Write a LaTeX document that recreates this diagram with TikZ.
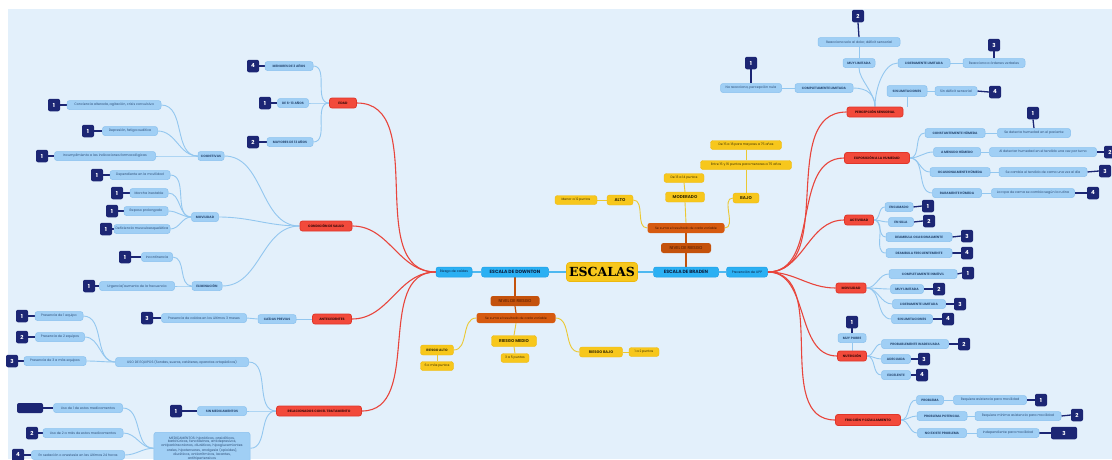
\documentclass[tikz,border=0pt]{standalone}
\usepackage{fontspec}
\setmainfont{Poppins}
\newfontfamily\slab{DejaVu Serif}
\usetikzlibrary{backgrounds}
\definecolor{bgc}{HTML}{E3F0FB}
\definecolor{lbF}{HTML}{A0CFF5}
\definecolor{lbD}{HTML}{8AC1EE}
\definecolor{lbT}{HTML}{2E4F78}
\definecolor{lbL}{HTML}{93C7EF}
\definecolor{rdF}{HTML}{F24A3B}
\definecolor{rdD}{HTML}{E0362A}
\definecolor{rdT}{HTML}{3B0A0A}
\definecolor{rdL}{HTML}{E8453C}
\definecolor{navy}{HTML}{1C2674}
\definecolor{blF}{HTML}{2BB0F3}
\definecolor{blD}{HTML}{1E9FE6}
\definecolor{blT}{HTML}{0B2344}
\definecolor{blL}{HTML}{4DB8F0}
\definecolor{orD}{HTML}{C4520C}
\definecolor{orF}{HTML}{D65A10}
\definecolor{orT}{HTML}{4A1800}
\definecolor{ylF}{HTML}{F7C71C}
\definecolor{ylD}{HTML}{EDB80E}
\definecolor{ylT}{HTML}{3A2E00}
\definecolor{ylL}{HTML}{EBC832}
\tikzset{
 nb/.style={rounded corners=2.5pt, inner sep=0.6pt, align=center, minimum height=9pt},
 mw/.style={minimum width=#1pt},
 lb/.style={nb, fill=lbF, draw=lbD, line width=0.5pt, text=lbT, font=\fontsize{3.3}{3.7}\selectfont},
 lbu/.style={lb, font=\fontsize{3.2}{3.7}\selectfont\bfseries},
 rd/.style={nb, fill=rdF, draw=rdD, line width=0.8pt, text=rdT, minimum height=10pt, font=\fontsize{3.3}{3.8}\selectfont\bfseries},
 bdg/.style={rounded corners=2pt, fill=navy, text=white, inner sep=0pt, minimum width=12pt, minimum height=12.5pt, font=\fontsize{5.5}{6}\selectfont\bfseries},
 bl/.style={nb, fill=blF, draw=blD, line width=0.5pt, text=blT, minimum height=10pt, font=\fontsize{4.6}{5.5}\selectfont\bfseries},
 bls/.style={nb, fill=blF, draw=blD, line width=0.5pt, text=blT, minimum height=10pt, font=\fontsize{3.3}{4}\selectfont},
 orn/.style={nb, fill=orD, text=orT, minimum height=10pt, font=\fontsize{4.2}{5}\selectfont},
 ors/.style={nb, fill=orF, text=orT, minimum height=10pt, font=\fontsize{3.2}{3.7}\selectfont},
 yl/.style={nb, fill=ylF, draw=ylD, line width=0.4pt, text=ylT, font=\fontsize{3.2}{3.7}\selectfont},
 ylb/.style={yl, minimum height=10pt, font=\fontsize{4.2}{5}\selectfont\bfseries},
 esc/.style={rounded corners=3pt, fill=ylF, draw=ylD, line width=0.6pt, minimum width=71pt, minimum height=19pt, inner sep=0pt, font=\slab\fontsize{12.5}{13}\selectfont\bfseries, text=black},
 lbc/.style={draw=lbL, line width=0.9pt},
 rdc/.style={draw=rdL, line width=1.1pt},
 nvc/.style={draw=navy, line width=1.3pt},
 ylc/.style={draw=ylL, line width=0.9pt},
 orc/.style={draw=orD, line width=1.2pt},
 blc/.style={draw=blL, line width=1.2pt},
}
\begin{document}
\begin{tikzpicture}[x=1pt,y=-1pt]
\useasboundingbox (0,0) rectangle (1112,459);
% ---- centre
\node[bls,mw=36] (rc) at (454,272) {Riesgo de caídas};
\node[bl,mw=67] (dw) at (515,272) {ESCALA DE DOWNTON};
\node[esc] (esc) at (602,272) {ESCALAS};
\node[bl,mw=65] (br) at (686,272) {ESCALA DE BRADEN};
\node[bls,mw=41] (up) at (747,272) {Prevención de UPP};
% ---- Downton levels
\node[orn,mw=49] (dn) at (515,301) {NIVEL DE RIESGO};
\node[ors,mw=79] (ds) at (516,318) {Se suma el resultado de cada variable};
\node[ylb,mw=45,minimum height=11pt] (dm) at (514,341) {RIESGO MEDIO};
\node[yl,mw=28] (dmp) at (515,358) {3 a 5 puntos};
\node[ylb,mw=33,font=\fontsize{3.3}{4}\selectfont\bfseries] (da) at (437,350) {RIESGO ALTO};
\node[yl,mw=33] (dap) at (437,366) {6 o más puntos};
\node[ylb,mw=43,font=\fontsize{3.7}{4.4}\selectfont\bfseries] (db) at (601,352) {RIESGO BAJO};
\node[yl,mw=30] (dbp) at (644,352) {1 a 2 puntos};
% ---- Braden levels
\node[orn,mw=50] (bn) at (686,248) {NIVEL DE RIESGO};
\node[ors,mw=77] (bs) at (686,228) {Se suma el resultado de cada variable};
\node[ylb,mw=39] (bm) at (685,197) {MODERADO};
\node[yl,mw=40] (bmp) at (684,178) {De 13 a 14 puntos};
\node[ylb,mw=26] (ba) at (620,200) {ALTO};
\node[yl,mw=42] (bap) at (576,200) {Menor a 12 puntos};
\node[ylb,mw=26] (bb) at (746,198) {BAJO};
\node[yl,mw=91] (bb1) at (746,165) {Entre 15 y 16 puntos para menores a 75 años};
\node[yl,mw=71] (bb2) at (746,145) {De 15 a 18 para mayores a 75 años};
% ---- left red
\node[rd,mw=27] (edad) at (343,103) {EDAD};
\node[rd,mw=52] (cond) at (326,226) {CONDICIÓN DE SALUD};
\node[rd,mw=39] (ante) at (332,319) {ANTECEDENTES};
\node[rd,mw=85] (rel) at (319,411) {RELACIONADOS CON EL TRATAMIENTO};
% edad
\node[lbu,mw=48] (e1) at (289,66) {MENORES DE 3 AÑOS};
\node[bdg] (e1b) at (253,66) {4};
\node[lbu,mw=31] (e2) at (293,103) {DE 6-13 AÑOS};
\node[bdg] (e2b) at (265,103) {1};
\node[lbu,mw=46] (e3) at (290,142) {MAYORES DE 13 AÑOS};
\node[bdg] (e3b) at (253,142) {2};
% condicion
\node[lbu,mw=26] (cog) at (211,156) {COGNITIVAS};
\node[lb,mw=94] (c1) at (114,105) {Conciencia alterada, agitación, crisis convulsiva};
\node[bdg] (c1b) at (54,105) {1};
\node[lb,mw=55] (c2) at (130,131) {Depresión, fatiga auditiva};
\node[bdg] (c2b) at (88,131) {1};
\node[lb,mw=101] (c3) at (105,156) {Incumplimiento a las indicaciones farmacológicas};
\node[bdg] (c3b) at (42,156) {1};
\node[lbu,mw=27] (mov) at (205,217) {MOVILIDAD};
\node[lb,mw=60] (m1) at (140,175) {Dependiente en la movilidad};
\node[bdg] (m1b) at (97,175) {1};
\node[lb,mw=38] (m2) at (149,193) {Marcha inestable};
\node[bdg] (m2b) at (117,193) {1};
\node[lb,mw=44] (m3) at (146,211) {Reposo prolongado};
\node[bdg] (m3b) at (112,211) {1};
\node[lb,mw=56] (m4) at (142,229) {Deficiencia musculoesquelética};
\node[bdg] (m4b) at (106,229) {1};
\node[lbu,mw=30] (eli) at (207,286) {ELIMINACIÓN};
\node[lb,mw=31] (l1) at (157,257) {Incontinencia};
\node[bdg] (l1b) at (125,257) {1};
\node[lb,mw=75] (l2) at (137,286) {Urgencia/aumento de la frecuencia};
\node[bdg] (l2b) at (89,286) {1};
% antecedentes
\node[lbu,mw=38] (cp) at (277,319) {CAÍDAS PREVIAS};
\node[lb,mw=85] (cp1) at (204,318) {Presencia de caídas en los últimos 3 meses};
\node[bdg] (cp1b) at (147,318) {3};
% relacionados
\node[lb,mw=133] (ueq) at (182,362) {USO DE EQUIPOS (Sondas, sueros, catéteres, aparatos ortopédicos)};
\node[lb,mw=48] (q1) at (59,316) {Presencia de 1 equipo};
\node[bdg] (q1b) at (22,316) {1};
\node[lb,mw=49] (q2) at (60,337) {Presencia de 2 equipos};
\node[bdg] (q2b) at (22,337) {2};
\node[lb,mw=62] (q3) at (55,361) {Presencia de 3 a más equipos};
\node[bdg] (q3b) at (12,361) {3};
\node[lbu,mw=49] (smed) at (222,411) {SIN MEDICAMENTOS};
\node[bdg] (smedb) at (176,411) {1};
\node[lb,text width=95pt,anchor=north,minimum height=32pt] (med) at (202,432) {MEDICAMENTOS: hipnóticos, ansiolíticos,\\ barbitúricos, fenotiazinas, antidepresivos,\\ antiparkinsonianos, diuréticos, hipoglucemiantes\\ orales, hipotensores, analgesia (opioides),\\ diuréticos, antiarrítmicos, laxantes,\\ antihipertensivos};
\node[lb,mw=69] (d1) at (88,408) {Uso de 1 de estos medicamentos};
\node[bdg,mw=26,minimum height=10pt] (d1b) at (30,408) {};
\node[lb,mw=80] (d2) at (83,433) {Uso de 2 a más de estos medicamentos};
\node[bdg] (d2b) at (32,433) {2};
\node[lb,mw=93] (d3) at (78,455) {En sedación o anestesia en las últimas 24 horas};
\node[bdg] (d3b) at (18,455) {4};
% ---- right red
\node[rd,mw=56] (per) at (875,112) {PERCEPCIÓN SENSORIAL};
\node[lbu,mw=58] (p1) at (824,88) {COMPLETAMENTE LIMITADA};
\node[lb,mw=61] (p1t) at (751,88) {No reacciona, percepción nula};
\node[bdg] (p1b) at (751,63) {1};
\node[lbu,mw=32] (p2) at (859,63) {MUY LIMITADA};
\node[lb,mw=82] (p2t) at (859,42) {Reacciona solo al dolor, déficit sensorial};
\node[bdg] (p2b) at (858,16) {2};
\node[lbu,mw=52] (p3) at (924,63) {LIGERAMENTE LIMITADA};
\node[lb,mw=62] (p3t) at (994,63) {Reacciona a órdenes verbales};
\node[bdg] (p3b) at (994,45) {3};
\node[lbu,mw=40,minimum height=11pt] (p4) at (907,91) {SIN LIMITACIONES};
\node[lb,mw=42] (p4t) at (956,91) {Sin déficit sensorial};
\node[bdg] (p4b) at (995,92) {4};
% exposicion
\node[rd,mw=65,minimum height=11pt] (exp) at (877,158) {EXPOSICIÓN A LA HUMEDAD};
\node[lbu,mw=60] (x1) at (955,133) {CONSTANTEMENTE HÚMEDA};
\node[lb,mw=73] (x1t) at (1034,133) {Se detecta humedad en el paciente};
\node[bdg] (x1b) at (1033,113) {1};
\node[lbu,mw=47] (x2) at (957,152) {A MENUDO HÚMEDO};
\node[lb,mw=107] (x2t) at (1043,152) {Al detectar humedad en el tendido una vez por turno};
\node[bdg] (x2b) at (1110,152) {2};
\node[lbu,mw=60] (x3) at (960,172) {OCASIONALMENTE HÚMEDA};
\node[lb,mw=88] (x3t) at (1043,172) {Se cambia el tendido de cama una vez al día};
\node[bdg] (x3b) at (1105,171) {3};
\node[lbu,mw=49] (x4) at (957,193) {RARAMENTE HÚMEDA};
\node[lb,mw=83] (x4t) at (1033,193) {La ropa de cama se cambia según la rutina};
\node[bdg] (x4b) at (1093,193) {4};
% actividad
\node[rd,mw=29] (act) at (859,220) {ACTIVIDAD};
\node[lbu,mw=28] (a1) at (899,207) {ENCAMADO};
\node[bdg] (a1b) at (928,206) {1};
\node[lbu,mw=25] (a2) at (901,222) {EN SILLA};
\node[bdg] (a2b) at (929,221) {2};
\node[lbu,mw=66] (a3) at (919,237) {DEAMBULA OCASIONALMENTE};
\node[bdg] (a3b) at (967,236) {3};
\node[lbu,mw=66] (a4) at (919,253) {DEAMBULA FRECUENTEMENTE};
\node[bdg] (a4b) at (967,253) {4};
% movilidad
\node[rd,mw=30] (movr) at (851,288) {MOVILIDAD};
\node[lbu,mw=68] (v1) at (923,274) {COMPLETAMENTE INMÓVIL};
\node[bdg] (v1b) at (968,273) {1};
\node[lbu,mw=33] (v2) at (907,289) {MUY LIMITADA};
\node[bdg] (v2b) at (939,289) {2};
\node[lbu,mw=53] (v3) at (919,304) {LIGERAMENTE LIMITADA};
\node[bdg] (v3b) at (960,304) {3};
\node[lbu,mw=41] (v4) at (912,319) {SIN LIMITACIONES};
\node[bdg] (v4b) at (948,319) {4};
% nutricion
\node[rd,mw=29] (nut) at (852,356) {NUTRICIÓN};
\node[lbu,mw=28] (n1) at (852,338) {MUY POBRE};
\node[bdg] (n1b) at (852,322) {1};
\node[lbu,mw=67] (n2) at (915,344) {PROBABLEMENTE INADECUADA};
\node[bdg] (n2b) at (964,344) {2};
\node[lbu,mw=29] (n3) at (896,359) {ADECUADA};
\node[bdg] (n3b) at (924,359) {3};
\node[lbu,mw=29] (n4) at (896,375) {EXCELENTE};
\node[bdg] (n4b) at (922,375) {4};
% friccion
\node[rd,mw=65,minimum height=11pt] (fri) at (868,420) {FRICCIÓN Y CIZALLAMIENTO};
\node[lbu,mw=27] (f1) at (930,400) {PROBLEMA};
\node[lb,mw=73] (f1t) at (990,400) {Requiere asistencia para movilidad};
\node[bdg] (f1b) at (1041,400) {1};
\node[lbu,mw=50] (f2) at (942,416) {PROBLEMA POTENCIAL};
\node[lb,mw=86] (f2t) at (1018,416) {Requiere mínima asistencia para movilidad};
\node[bdg] (f2b) at (1077,415) {2};
\node[lbu,mw=49] (f3) at (942,433) {NO EXISTE PROBLEMA};
\node[lb,mw=62] (f3t) at (1008,433) {Independiente para movilidad};
\node[bdg,mw=26] (f3b) at (1064,433) {3};

\begin{scope}[on background layer]
\fill[white] (0,0) rectangle (1112,459);
\fill[bgc] (8,9) rectangle (1112,459);
% centre
\draw[blc] (rc.east) -- (dw.west);
\draw[blc] (dw.east) -- (esc.west);
\draw[blc] (esc.east) -- (br.west);
\draw[blc] (br.east) -- (up.west);
% downton
\draw[orc] (dw.south) -- (dn.north);
\draw[orc] (dn.south) -- (ds.north);
\draw[ylc] (ds.south) -- (dm.north);
\draw[ylc] (dm.south) -- (dmp.north);
\draw[ylc] (ds.west) to[out=180,in=0] (da.east);
\draw[ylc] (da.south) -- (dap.north);
\draw[ylc] (ds.east) to[out=0,in=180] (db.west);
\draw[ylc] (db.east) -- (dbp.west);
% braden
\draw[orc] (br.north) -- (bn.south);
\draw[orc] (bn.north) -- (bs.south);
\draw[ylc] (bs.north) -- (bm.south);
\draw[ylc] (bm.north) -- (bmp.south);
\draw[ylc] (bs.west) to[out=180,in=0] (ba.east);
\draw[ylc] (ba.west) -- (bap.east);
\draw[ylc] (bs.east) to[out=0,in=180] (bb.west);
\draw[ylc] (bb.north) -- (bb1.south);
\draw[ylc] (bb1.north) -- (bb2.south);
% left red
\foreach \n in {edad,cond,ante,rel}
  \draw[rdc] (rc.west) to[out=180,in=0] (\n.east);
% edad
\foreach \n in {e1,e2,e3} {
  \draw[lbc] (edad.west) to[out=180,in=0] (\n.east);
  \draw[nvc] (\n b.east) -- (\n.west);}
% condicion
\foreach \n in {cog,mov,eli}
  \draw[lbc] (cond.west) to[out=180,in=0] (\n.east);
\foreach \n in {c1,c2,c3} {
  \draw[lbc] (cog.west) to[out=180,in=0] (\n.east);
  \draw[nvc] (\n b.east) -- (\n.west);}
\foreach \n in {m1,m2,m3,m4} {
  \draw[lbc] (mov.west) to[out=180,in=0] (\n.east);
  \draw[nvc] (\n b.east) -- (\n.west);}
\foreach \n in {l1,l2} {
  \draw[lbc] (eli.west) to[out=180,in=0] (\n.east);
  \draw[nvc] (\n b.east) -- (\n.west);}
% antecedentes
\draw[lbc] (ante.west) -- (cp.east);
\draw[lbc] (cp.west) -- (cp1.east);
\draw[nvc] (cp1b.east) -- (cp1.west);
% relacionados
\foreach \n in {ueq,smed,med}
  \draw[lbc] (rel.west) to[out=180,in=0] (\n.east);
\foreach \n in {q1,q2,q3} {
  \draw[lbc] (ueq.west) to[out=180,in=0] (\n.east);
  \draw[nvc] (\n b.east) -- (\n.west);}
\draw[nvc] (smedb.east) -- (smed.west);
\foreach \n in {d1,d2,d3} {
  \draw[lbc] (med.west) to[out=180,in=0] (\n.east);
  \draw[nvc] (\n b.east) -- (\n.west);}
% right red
\foreach \n in {per,exp,act,movr,nut,fri}
  \draw[rdc] (up.east) to[out=0,in=180] (\n.west);
% percepcion
\draw[lbc] (p1.east) .. controls +(14,0) and +(0,-12) .. (per.north);
\draw[lbc] (p2.south) .. controls +(0,12) and +(0,-14) .. (per.north);
\draw[lbc] (per.north) .. controls +(0,-18) and +(-14,0) .. (p3.west);
\draw[lbc] (p4.south) -- (p4.south |- per.north);
\draw[lbc] (p1.west) -- (p1t.east);
\draw[nvc] (p1t.north) -- (p1b.south);
\draw[lbc] (p2.north) -- (p2t.south);
\draw[nvc] (p2t.north) -- (p2b.south);
\draw[lbc] (p3.east) -- (p3t.west);
\draw[nvc] (p3t.north) -- (p3b.south);
\draw[lbc] (p4.east) -- (p4t.west);
\draw[nvc] (p4t.east) -- (p4b.west);
% exposicion
\foreach \n in {x1,x2,x3,x4} {
  \draw[lbc] (exp.east) to[out=0,in=180] (\n.west);
  \draw[lbc] (\n.east) -- (\n t.west);}
\draw[nvc] (x1t.north) -- (x1b.south);
\foreach \n in {x2,x3,x4}
  \draw[nvc] (\n t.east) -- (\n b.west);
% actividad
\foreach \n in {a1,a2,a3,a4} {
  \draw[lbc] (act.east) to[out=0,in=180] (\n.west);
  \draw[nvc] (\n.east) -- (\n b.west);}
% movilidad
\foreach \n in {v1,v2,v3,v4} {
  \draw[lbc] (movr.east) to[out=0,in=180] (\n.west);
  \draw[nvc] (\n.east) -- (\n b.west);}
% nutricion
\draw[lbc] (nut.north) -- (n1.south);
\draw[nvc] (n1.north) -- (n1b.south);
\foreach \n in {n2,n3,n4} {
  \draw[lbc] (nut.east) to[out=0,in=180] (\n.west);
  \draw[nvc] (\n.east) -- (\n b.west);}
% friccion
\foreach \n in {f1,f2,f3} {
  \draw[lbc] (fri.east) to[out=0,in=180] (\n.west);
  \draw[lbc] (\n.east) -- (\n t.west);
  \draw[nvc] (\n t.east) -- (\n b.west);}
\end{scope}
\end{tikzpicture}
\end{document}
